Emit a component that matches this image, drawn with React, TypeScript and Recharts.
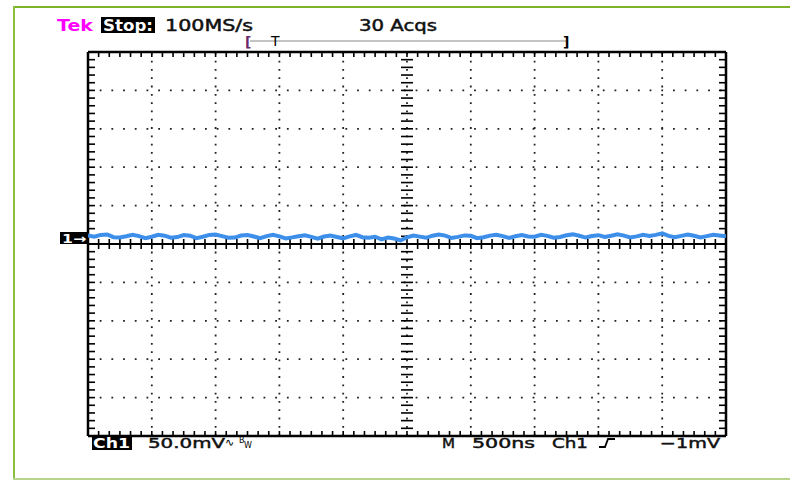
import React from 'react';
import { LineChart, Line, XAxis, YAxis, ReferenceLine } from 'recharts';

// Time axis: 10 divisions x 500 ns
const X_MIN = 0;
const X_MAX = 5000;
const X_DIV = 500;
const X_MINOR_PER_DIV = 6;
// Voltage axis: 10 divisions x 50 mV
const Y_MIN = -250;
const Y_MAX = 250;
const Y_DIV = 50;
const Y_MINOR_PER_DIV = 5;

const sampleStepNs = 50;
// Ch1 trace (mV), one value every 50 ns
const traceMv = [
  11.2, 9.6, 11.8, 12.4, 8.9, 8.4, 10.1, 12.0, 10.3, 7.6,
  9.4, 11.9, 10.8, 8.2, 9.0, 11.6, 10.8, 7.6, 9.4, 11.8,
  12.3, 10.2, 8.1, 8.4, 11.0, 11.7, 9.7, 7.5, 10.2, 12.1,
  9.9, 7.3, 8.6, 10.1, 11.3, 9.2, 7.0, 9.7, 10.9, 9.1,
  7.4, 9.9, 11.8, 8.8, 8.3, 9.5, 6.0, 8.4, 7.2, 4.6,
  8.7, 10.9, 9.6, 8.1, 10.8, 12.4, 10.9, 7.8, 9.3, 11.2,
  10.7, 7.6, 8.8, 10.9, 12.0, 10.3, 8.0, 10.0, 11.6, 9.9,
  9.6, 12.0, 10.6, 8.1, 9.2, 11.4, 12.5, 10.8, 8.4, 10.4,
  11.5, 9.2, 10.7, 12.7, 10.9, 8.6, 9.9, 12.1, 10.6, 11.9,
  13.8, 10.5, 8.9, 10.6, 12.2, 10.7, 8.5, 10.3, 12.0, 11.2,
  10.1,
];

const headerTexts = { tek: 'Tek', stop: 'Stop:', rate: '100MS/s', acqs: '30 Acqs' };
const footerTexts = { ch: 'Ch1', scale: '50.0mV', m: 'M', time: '500ns', trigCh: 'Ch1', level: '\u22121mV' };

const traceData = traceMv.map((v, i) => ({ t: i * sampleStepNs, v }));

const xMajor: number[] = [];
for (let x = X_MIN + X_DIV; x < X_MAX; x += X_DIV) xMajor.push(x);
const yMajor: number[] = [];
for (let y = Y_MIN + Y_DIV; y < Y_MAX; y += Y_DIV) yMajor.push(y);
const xMinor: number[] = [];
for (let i = 1; i < ((X_MAX - X_MIN) / X_DIV) * X_MINOR_PER_DIV; i++) xMinor.push(X_MIN + (i * X_DIV) / X_MINOR_PER_DIV);
const yMinor: number[] = [];
for (let i = 1; i < ((Y_MAX - Y_MIN) / Y_DIV) * Y_MINOR_PER_DIV; i++) yMinor.push(Y_MIN + (i * Y_DIV) / Y_MINOR_PER_DIV);

const W = 790;
const H = 480;
const MARGIN = { top: 52, left: 88, right: 64, bottom: 44 };
const pxPerNs = (W - MARGIN.left - MARGIN.right) / (X_MAX - X_MIN);
const pxPerMv = (H - MARGIN.top - MARGIN.bottom) / (Y_MAX - Y_MIN);
const px2ns = (p: number) => p / pxPerNs;
const px2mv = (p: number) => p / pxPerMv;
const X_MID = (X_MIN + X_MAX) / 2;
const Y_MID = (Y_MIN + Y_MAX) / 2;

const FONT = "'DejaVu Sans', Verdana, sans-serif";
const tickProps = { stroke: '#000', strokeWidth: 1.6, ifOverflow: 'visible' as const };
const medium = { fill: '#111', stroke: '#111', strokeWidth: 0.45 };

export default function App() {
  const ticks: React.ReactNode[] = [];
  xMinor.forEach((x, i) => {
    ticks.push(<ReferenceLine key={'tt' + i} segment={[{ x, y: Y_MAX }, { x, y: Y_MAX - px2mv(5) }]} {...tickProps} />);
    ticks.push(<ReferenceLine key={'tb' + i} segment={[{ x, y: Y_MIN }, { x, y: Y_MIN + px2mv(5) }]} {...tickProps} />);
    ticks.push(<ReferenceLine key={'tc' + i} segment={[{ x, y: Y_MID - px2mv(5) }, { x, y: Y_MID + px2mv(5) }]} {...tickProps} />);
  });
  yMinor.forEach((y, i) => {
    ticks.push(<ReferenceLine key={'tl' + i} segment={[{ x: X_MIN, y }, { x: X_MIN + px2ns(7), y }]} {...tickProps} />);
    ticks.push(<ReferenceLine key={'tr' + i} segment={[{ x: X_MAX, y }, { x: X_MAX - px2ns(7), y }]} {...tickProps} />);
    ticks.push(<ReferenceLine key={'tm' + i} segment={[{ x: X_MID - px2ns(6), y }, { x: X_MID + px2ns(6), y }]} {...tickProps} />);
  });

  return (
    <div style={{ position: 'absolute', left: 0, top: 0, width: W, height: H, background: '#fff', overflow: 'hidden' }}>
      <LineChart width={W} height={H} data={traceData} margin={MARGIN}>
        <XAxis type="number" dataKey="t" domain={[X_MIN, X_MAX]} hide allowDataOverflow />
        <YAxis type="number" domain={[Y_MIN, Y_MAX]} hide allowDataOverflow />
        {xMajor.map((x) => (
          <ReferenceLine key={'gx' + x} x={x} stroke="#222" strokeWidth={1.8} strokeDasharray="1.8 6.5" />
        ))}
        {yMajor.filter((y) => y !== Y_MID).map((y) => (
          <ReferenceLine key={'gy' + y} y={y} stroke="#222" strokeWidth={1.8} strokeDasharray="1.8 9.9" />
        ))}
        <ReferenceLine y={Y_MID} stroke="#000" strokeWidth={2} />
        {ticks}
        <ReferenceLine x={X_MIN} stroke="#000" strokeWidth={2.5} />
        <ReferenceLine x={X_MAX} stroke="#000" strokeWidth={2.5} />
        <ReferenceLine y={Y_MIN} stroke="#000" strokeWidth={2.5} />
        <ReferenceLine y={Y_MAX} stroke="#000" strokeWidth={2.5} />
        <Line type="linear" dataKey="v" stroke="#3d8fea" strokeWidth={4} dot={false} isAnimationActive={false} />
      </LineChart>
      <svg width={W} height={H} style={{ position: 'absolute', left: 0, top: 0, pointerEvents: 'none' }} fontFamily={FONT}>
        {/* frame */}
        <rect x={13} y={6} width={W - 13} height={2} fill="#7cb32b" />
        <rect x={13} y={6} width={2} height={H - 6} fill="#8cbf3f" />
        <rect x={13} y={478} width={W - 13} height={2} fill="#b8d48a" />
        {/* header */}
        <text x={57} y={31} fontSize={15} fontWeight="bold" fill="#ff00ff" textLength={36} lengthAdjust="spacingAndGlyphs">{headerTexts.tek}</text>
        <rect x={101} y={17} width={54} height={16} fill="#000" />
        <text x={103} y={31} fontSize={15} fontWeight="bold" fill="#fff" textLength={50} lengthAdjust="spacingAndGlyphs">{headerTexts.stop}</text>
        <text x={165} y={31} fontSize={15} {...medium} textLength={88} lengthAdjust="spacingAndGlyphs">{headerTexts.rate}</text>
        <text x={359} y={31} fontSize={15} {...medium} textLength={78} lengthAdjust="spacingAndGlyphs">{headerTexts.acqs}</text>
        {/* record bracket */}
        <line x1={250} y1={41} x2={566} y2={41} stroke="#888" strokeWidth={1} />
        <text x={245} y={47} fontSize={14} fontWeight="bold" fill="#6a2a6a">[</text>
        <text x={271} y={46} fontSize={14} fill="#000">T</text>
        <text x={563} y={47} fontSize={14} fontWeight="bold" fill="#000">]</text>
        {/* channel marker */}
        <rect x={60} y={232} width={28} height={12} fill="#000" />
        <text x={62} y={243} fontSize={12} fontWeight="bold" fill="#fff" textLength={24} lengthAdjust="spacingAndGlyphs">1→</text>
        {/* footer */}
        <rect x={92} y={437} width={40} height={13} fill="#000" />
        <text x={93} y={448} fontSize={14} fontWeight="bold" fill="#fff" textLength={37} lengthAdjust="spacingAndGlyphs">{footerTexts.ch}</text>
        <text x={148} y={448} fontSize={14} {...medium} textLength={77} lengthAdjust="spacingAndGlyphs">{footerTexts.scale}</text>
        <text x={225} y={446} fontSize={11} fill="#000">∿</text>
        <text x={239} y={443} fontSize={8} fill="#000">B</text>
        <text x={244} y={448} fontSize={8} fill="#000">W</text>
        <text x={442} y={448} fontSize={14} {...medium} textLength={13} lengthAdjust="spacingAndGlyphs">{footerTexts.m}</text>
        <text x={472} y={448} fontSize={14} {...medium} textLength={63} lengthAdjust="spacingAndGlyphs">{footerTexts.time}</text>
        <text x={552} y={448} fontSize={14} {...medium} textLength={36} lengthAdjust="spacingAndGlyphs">{footerTexts.trigCh}</text>
        <path d="M599,447 L605,447 L608,439 L615,439" stroke="#000" strokeWidth={1.8} fill="none" />
        <text x={660} y={448} fontSize={14} {...medium} textLength={60} lengthAdjust="spacingAndGlyphs">{footerTexts.level}</text>
      </svg>
    </div>
  );
}
